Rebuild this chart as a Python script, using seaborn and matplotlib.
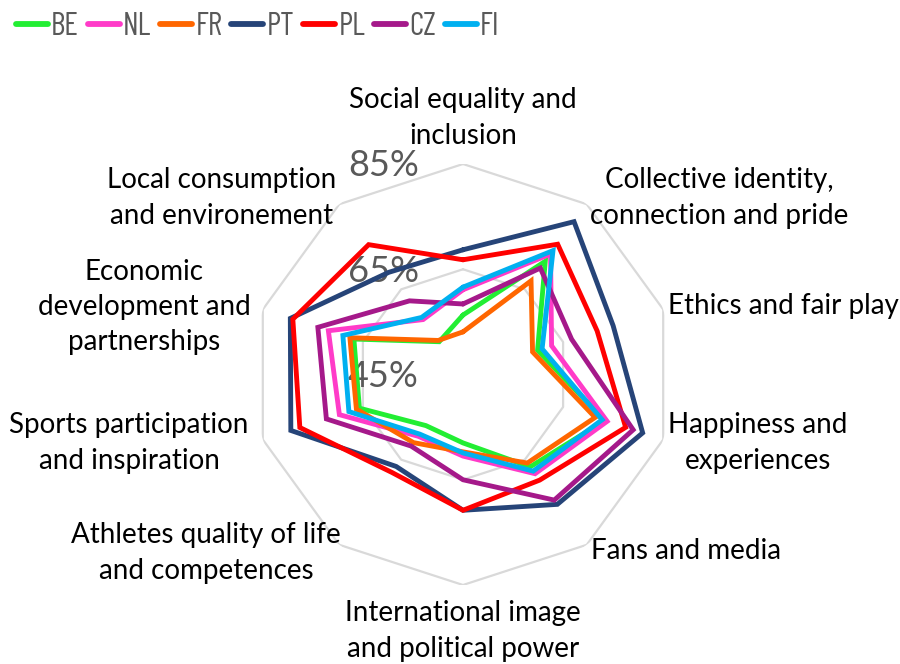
import numpy as np
import pandas as pd
import matplotlib
matplotlib.use('Agg')
import matplotlib.pyplot as plt
import seaborn as sns

# ----------------------------------
# data
# ----------------------------------
categories = ['Social equality and\ninclusion',
              'Collective identity,\nconnection and pride',
              'Ethics and fair play',
              'Happiness and\nexperiences',
              'Fans and media',
              'International image\nand political power',
              'Athletes quality of life\nand competences',
              'Sports participation\nand inspiration',
              'Economic\ndevelopment and\npartnerships',
              'Local consumption\nand environement']
countries = ['BE', 'NL', 'FR', 'PT', 'PL', 'CZ', 'FI']

be_scores = [56.3, 71.6, 59.9, 73.3, 66.7, 58.0, 57.0, 65.7, 66.8, 52.7]
nl_scores = [61.1, 73.3, 62.7, 73.8, 68.3, 60.5, 59.5, 69.7, 71.9, 57.9]
fr_scores = [53.1, 67.0, 58.9, 71.4, 65.8, 59.7, 61.0, 66.3, 67.6, 53.0]
pt_scores = [68.7, 80.9, 75.0, 80.9, 75.5, 70.8, 66.6, 79.4, 79.5, 69.0]
pl_scores = [66.8, 75.6, 71.8, 77.5, 69.8, 70.8, 68.0, 77.6, 79.0, 75.5]
cz_scores = [58.4, 70.0, 66.7, 79.0, 74.5, 65.0, 61.8, 72.3, 74.0, 62.3]
fi_scores = [61.6, 74.1, 60.8, 72.8, 67.7, 59.9, 59.0, 67.8, 69.0, 58.4]

ring_levels = [45, 65, 85]
ring_labels = ['45%', '65%', '85%']

palette = {'BE': '#22EE33', 'NL': '#FF3BC8', 'FR': '#FF6600', 'PT': '#264478',
           'PL': '#FF0000', 'CZ': '#A5198A', 'FI': '#00B0F0'}

# label centres in pixels (from the top-left corner)
label_pos = [(463, 118), (719, 198), (783, 306), (758, 443), (686, 551),
             (463, 631), (206, 553), (129, 443), (144, 307), (222, 198)]

# ----------------------------------
# long table for seaborn
# ----------------------------------
n_axes = len(categories)
angles = np.linspace(0, 2 * np.pi, n_axes, endpoint=False)
closed_angles = np.append(angles, 2 * np.pi)

all_scores = [be_scores, nl_scores, fr_scores, pt_scores, pl_scores, cz_scores, fi_scores]
rows = []
for name, scores in zip(countries, all_scores):
    closed = scores + scores[:1]
    for th, val in zip(closed_angles, closed):
        rows.append({'country': name, 'theta': th, 'score': val})
radar_df = pd.DataFrame(rows)

sns.set_theme(style='white')
plt.rcParams['font.family'] = ['Lato', 'DejaVu Sans']

W, H = 900, 664
fig = plt.figure(figsize=(W / 100, H / 100), dpi=100)
cx, cy, rad = 463, 374.5, 210.5
ax = fig.add_axes([(cx - rad) / W, (H - cy - rad) / H, 2 * rad / W, 2 * rad / H],
                  projection='polar')
ax.set_theta_zero_location('N')
ax.set_theta_direction(-1)

# decagon grid
for lvl in ring_levels[1:]:
    ax.plot(closed_angles, [lvl] * (n_axes + 1), color='#D9D9D9', lw=1.6, zorder=1)

sns.lineplot(data=radar_df, x='theta', y='score', hue='country', hue_order=countries,
             palette=palette, sort=False, estimator=None, lw=3.5,
             solid_joinstyle='miter', ax=ax, zorder=3)

ax.set_ylim(45, 85)
ax.grid(False)
ax.spines['polar'].set_visible(False)
ax.set_xticks([])
ax.set_yticks([])
ax.set_xlabel('')
ax.set_ylabel('')

for lvl, txt in zip(ring_levels, ring_labels):
    ax.annotate(txt, xy=(0, lvl), xytext=(-44, -2), textcoords='offset pixels',
                ha='right', va='center', fontsize=26, color='#595959', zorder=2)

for txt, (px, py) in zip(categories, label_pos):
    fig.text(px / W, 1 - py / H, txt, ha='center', va='center', fontsize=20,
             color='black', linespacing=1.45)

sns.move_legend(ax, 'center left', bbox_to_anchor=(16 / W, 1 - 27 / H),
                bbox_transform=fig.transFigure, ncol=7, frameon=False, title=None,
                prop={'family': ['Barlow Condensed', 'DejaVu Sans'], 'size': 23},
                handlelength=1.0, handletextpad=0.1, columnspacing=0.28,
                borderpad=0, borderaxespad=0)
leg = ax.get_legend()
for ln in leg.get_lines():
    ln.set_linewidth(4.2)
    ln.set_solid_capstyle('round')
for t in leg.get_texts():
    t.set_color('#595959')

fig.savefig('out.png', dpi=100)
